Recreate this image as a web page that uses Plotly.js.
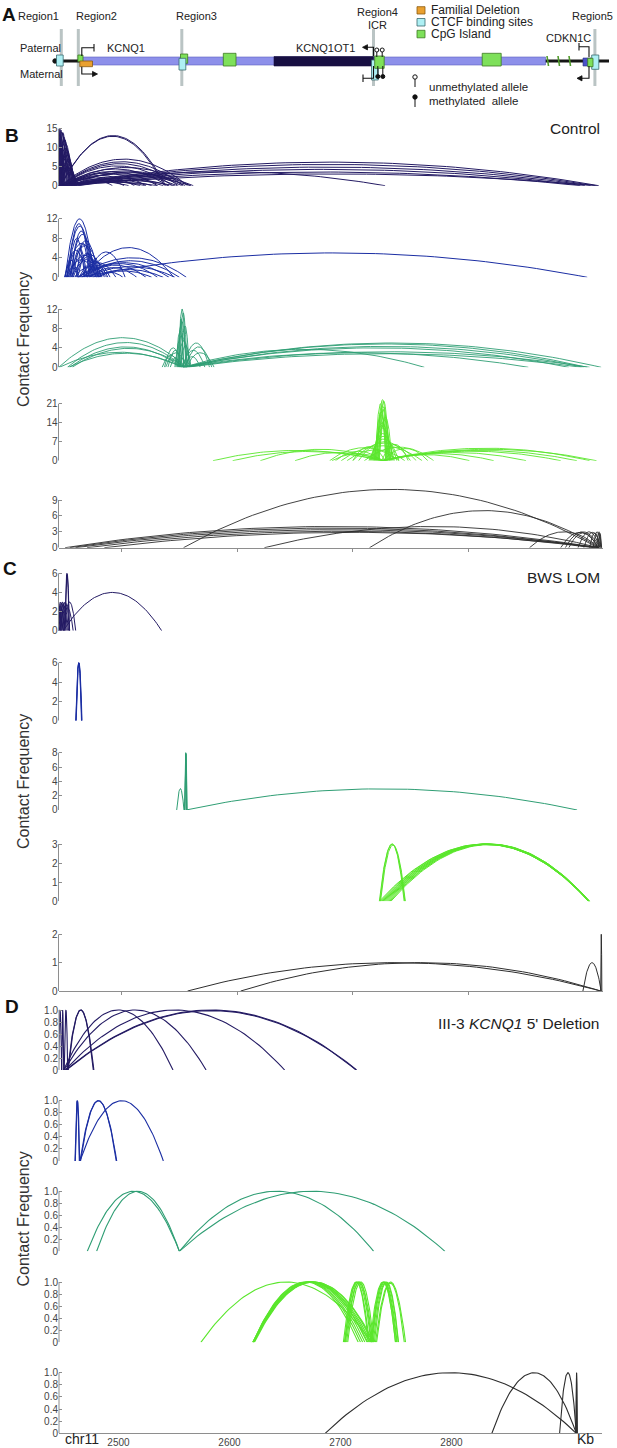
<!DOCTYPE html>
<html><head><meta charset="utf-8">
<script src="https://cdn.plot.ly/plotly-3.0.1.min.js"></script>
<style>html,body{margin:0;padding:0;background:#fff}#chart{width:617px;height:1448px}</style>
</head><body><div id="chart"></div>
<script>
// ---------------- DATA (genomic kb on chr11: [start, end, contact frequency]) ----------------
const xTickVals = [2500, 2600, 2700, 2800];
const xTickText = ['2500', '2600', '2700', '2800'];

// B  Control
const ctrlRegion1 = [
 [2444.8,2448.2,15],[2445.2,2449.8,14.6],[2445.6,2452.0,13.8],[2446.0,2453.8,12.8],[2445.5,2455.5,12.2],
 [2446.2,2457.0,11.0],[2446.6,2458.2,9.5],[2445.0,2451.0,10.5],[2446.0,2459.5,8.0],[2447.0,2458.8,6.5],
 [2445.4,2455.0,7.5],[2447.5,2460.5,5.5],[2446.5,2461.0,4.2],[2448.0,2462.5,3.5],[2447.0,2450.5,9.0],[2448.5,2456.0,6.0],
 [2445.0,2449.0,13.0],[2445.3,2452.8,14.0],[2446.8,2454.5,12.0],[2447.4,2456.5,10.0],[2445.8,2457.8,8.8],
 [2446.4,2460.0,7.0],[2447.8,2459.2,5.0],[2446.0,2462.0,4.6],[2445.2,2447.0,12.5],[2448.2,2453.0,7.8],
 [2447.0,2538.0,13.2],[2447.2,2537.0,13.0],[2447.0,2557.0,7.0],[2447.5,2553.0,6.3],[2448.0,2549.0,5.8],[2448.0,2544.0,5.2],
 [2448.5,2559.0,4.8],[2449.0,2540.0,4.4],[2449.0,2555.0,3.9],[2450.0,2531.0,3.7],[2450.0,2521.0,3.3],
 [2451.0,2548.0,3.1],[2451.0,2511.0,2.7],[2452.0,2502.0,2.3],[2452.0,2536.0,2.1],[2453.0,2492.0,1.8],
 [2455.0,2526.0,1.6],[2456.0,2516.0,1.3],[2458.0,2506.0,1.0],[2460.0,2546.0,1.4],[2462.0,2531.0,0.9],
 [2454.0,2560.0,2.6],[2450.0,2562.0,3.4],[2457.0,2552.0,3.6],[2459.0,2541.0,2.0],[2463.0,2520.0,1.1],
 [2447.5,2913.0,6.2],[2447.5,2910.0,5.6],[2448.0,2906.0,4.9],[2448.5,2901.0,4.3],[2449.0,2897.0,3.6],
 [2450.0,2912.0,3.1],[2447.5,2728.0,3.7]
];
const ctrlRegion2 = [
 [2451.0,2476.0,12.0],[2453.0,2473.0,11.0],[2456.0,2474.0,9.5],[2452.0,2479.0,7.0],[2455.0,2482.0,6.5],
 [2450.5,2470.0,5.5],[2458.0,2485.0,4.8],[2460.0,2481.0,4.2],[2452.0,2478.0,3.6],[2463.0,2490.0,3.2],
 [2451.0,2462.0,3.5],[2466.0,2480.0,2.6],[2454.0,2468.0,8.0],[2457.0,2470.0,6.0],[2459.0,2487.0,2.2],[2462.0,2478.0,5.0],
 [2452.5,2475.0,10.5],[2455.0,2477.0,8.8],[2457.5,2480.0,7.5],[2453.5,2483.0,4.5],[2461.0,2472.0,6.8],[2456.0,2488.0,3.8],
 [2467.0,2545.0,6.1],[2470.0,2503.0,5.2],[2462.0,2556.0,4.0],[2465.0,2550.0,3.4],[2462.0,2541.0,3.0],
 [2466.0,2531.0,2.8],[2468.0,2521.0,2.5],[2470.0,2546.0,2.2],[2472.0,2513.0,2.0],[2475.0,2536.0,1.6],
 [2478.0,2526.0,1.3],[2480.0,2501.0,1.0],[2464.0,2495.0,3.0],
 [2462.5,2903.0,5.0]
];
const ctrlRegion3 = [
 [2549.0,2555.5,12.0],[2550.0,2556.5,11.2],[2548.0,2556.0,9.5],[2551.0,2558.5,8.5],[2547.0,2554.0,7.5],
 [2546.0,2557.5,6.5],[2549.5,2553.5,10.0],[2548.5,2559.0,5.5],[2550.5,2560.0,4.5],
 [2537.0,2552.0,4.0],[2540.0,2553.0,3.5],[2535.0,2550.0,2.5],[2538.0,2556.0,3.0],[2542.0,2551.0,2.0],
 [2553.0,2576.0,5.0],[2555.0,2578.0,4.2],[2552.0,2572.0,3.5],[2556.0,2580.0,3.0],[2554.0,2568.0,2.2],
 [2445.5,2556.0,6.1],[2453.0,2554.0,5.1],[2455.0,2552.0,4.2],[2457.0,2555.0,3.9],[2446.0,2552.0,3.1],[2454.0,2553.0,2.9],
 [2553.0,2915.0,5.0],[2553.0,2903.0,4.8],[2554.0,2900.0,4.3],[2553.0,2887.0,4.0],[2555.0,2905.0,3.2],
 [2553.0,2852.0,3.0],[2556.0,2898.0,2.8],[2553.0,2762.0,3.7]
];
const ctrlRegion4 = [
 [2721.0,2730.5,22.5],[2722.0,2731.5,22.0],[2720.0,2732.0,20.0],[2719.0,2730.0,18.0],[2722.5,2734.0,16.0],
 [2718.0,2733.0,14.0],[2717.0,2735.0,12.0],[2716.0,2736.0,10.0],[2715.0,2738.0,9.0],[2714.0,2740.0,8.0],
 [2719.5,2728.5,21.0],[2723.0,2729.5,19.0],[2720.5,2729.0,17.0],[2721.5,2733.0,15.0],[2718.5,2731.5,13.0],
 [2690.0,2760.0,5.5],[2700.0,2755.0,6.5],[2680.0,2740.0,4.8],[2710.0,2770.0,5.0],[2695.0,2745.0,4.0],
 [2705.0,2750.0,7.0],[2685.0,2725.0,3.5],[2726.0,2765.0,4.5],[2700.0,2728.0,5.2],[2725.0,2748.0,6.0],
 [2579.0,2725.0,3.8],[2596.0,2726.0,3.4],[2650.0,2726.0,3.0],[2682.0,2727.0,2.6],[2620.0,2725.0,4.2],
 [2725.0,2911.0,4.2],[2726.0,2894.0,3.8],[2724.0,2880.0,3.5],[2727.0,2850.0,3.0],[2725.0,2822.0,2.6],
 [2726.0,2801.0,2.2],[2725.0,2905.0,4.6]
];
const ctrlRegion5 = [
 [2553.5,2912.0,11.0],[2714.5,2913.0,7.0],[2623.5,2913.0,4.0],
 [2451.0,2913.0,4.0],[2455.0,2910.0,3.7],[2460.0,2912.0,3.4],[2470.0,2908.0,3.1],[2485.0,2913.0,2.9],
 [2853.0,2913.0,3.0],[2880.0,2913.0,2.9],[2884.0,2914.0,3.0],[2887.0,2912.0,2.8],[2895.0,2914.0,3.0],
 [2900.0,2915.0,2.9],[2905.0,2914.0,2.8],[2908.0,2915.0,3.0],[2911.0,2915.2,3.0],[2912.5,2915.4,2.7]
];

// C  BWS LOM
const lomRegion1 = [
 [2444.8,2449.0,3.0],[2445.0,2451.0,2.9],[2445.5,2452.0,3.0],[2446.0,2453.0,2.8],[2446.5,2454.0,2.5],
 [2447.0,2455.0,3.0],[2445.0,2447.5,2.5],[2447.5,2450.0,2.0],[2448.0,2458.0,2.4],
 [2450.6,2454.6,6.0],[2450.8,2454.8,5.9],[2449.5,2460.2,3.0],
 [2449.4,2534.6,4.0]
];
const lomRegion2 = [[2460.2,2465.4,6.0],[2460.6,2465.6,5.95],[2460.4,2465.2,6.0]];
const lomRegion3 = [
 [2554.4,2556.4,8.0],[2554.8,2556.2,7.8],[2554.6,2556.6,7.9],
 [2547.6,2553.9,3.0],[2555.7,2894.2,2.95]
];
const lomRegion4 = [
 [2723.0,2904.5,3.0],[2724.0,2904.0,3.0],[2725.0,2905.0,2.98],[2726.0,2904.5,3.0],[2727.0,2904.0,2.97],
 [2728.0,2905.0,3.0],[2729.0,2904.5,2.98],[2730.0,2904.0,3.0],[2731.0,2905.0,2.99],[2732.0,2904.5,3.0],
 [2733.0,2904.0,2.97],
 [2723.0,2745.1,3.0],[2723.5,2744.5,3.0],[2724.0,2745.5,2.95]
];
const lomRegion5 = [
 [2557.0,2914.5,1.0],[2603.0,2914.5,1.0],[2899.2,2915.0,1.0],[2914.6,2915.6,2.0]
];

// D  III-3 KCNQ1 5' Deletion
const delRegion1 = [
 [2445.8,2448.8,1.0],[2448.8,2450.6,1.0],[2451.1,2454.2,1.0],
 [2454.7,2477.3,1.0],[2454.2,2477.8,1.0],
 [2450.5,2549.1,1.0],[2451.0,2578.9,1.0],[2452.0,2649.7,1.0],[2452.5,2714.5,1.0],[2453.0,2714.0,0.99]
];
const delRegion2 = [
 [2460.8,2464.7,1.0],[2461.1,2465.0,1.0],
 [2465.3,2498.4,1.0],[2465.8,2498.0,1.0],[2465.3,2540.4,1.0]
];
const delRegion3 = [
 [2471.9,2554.8,1.0],[2480.3,2554.8,1.0],[2554.8,2729.9,1.0],[2554.8,2794.1,1.0]
];
const delRegion4 = [
 [2574.2,2728.1,1.0],[2621.2,2724.6,1.0],
 [2621.2,2716.0,1.0],[2621.5,2718.0,1.0],[2621.0,2720.0,1.0],[2622.0,2722.0,1.0],[2621.5,2724.0,1.0],
 [2622.0,2726.0,1.0],[2621.0,2727.5,1.0],[2622.5,2729.0,1.0],[2621.5,2730.0,1.0],
 [2702.6,2726.0,1.0],[2703.5,2727.5,1.0],[2704.5,2729.0,1.0],[2705.5,2728.0,1.0],[2706.5,2730.0,1.0],[2704.0,2725.0,1.0],
 [2726.7,2749.6,1.0],[2727.5,2750.5,1.0],[2728.5,2751.0,1.0],[2729.5,2752.0,1.0],[2730.5,2752.3,1.0],[2728.0,2749.5,1.0],
 [2731.5,2758.6,1.0],[2732.5,2757.5,0.98]
];
const delRegion5 = [
 [2686.2,2912.4,1.0],[2836.4,2912.4,1.0],[2897.4,2912.4,1.0],[2912.0,2913.4,1.0],[2912.3,2913.0,1.0]
];

// y tick values per panel
const ticksB = [[0,5,10,15],[0,4,8,12],[0,4,8,12],[0,7,14,21],[0,3,6,9]];
const ticksC = [[0,2,4,6],[0,2,4,6],[0,2,4,6,8],[0,1,2,3],[0,1,2]];
const ticksD = [0,0.2,0.4,0.6,0.8,1.0];
const ticksDText = ['0','0.2','0.4','0.6','0.8','1.0'];

// Panel A diagram features (diagram units, left to right)
const regionNames = ['Region1','Region2','Region3','Region4','Region5'];
const regionLineX = [61.3, 78.3, 181.8, 373.5, 594.9];
const regionLabelX = [38, 96, 196, 377, 592];
const ctcfSites = [[56.5,63.2,55,66],[179,185.8,58.3,70],[371.5,378.3,60,80],[591.7,598.8,55,69.3]];
const cpgIslands = [[77.9,83,55,61.7],[223.3,236,53.3,66],[374.7,384.2,56,68.3],[482.2,501.2,53.3,66],[587.7,593,58.3,66.7]];
const cpgIslandBehind = [[180.5,187.7,54,63.3]];
const deletionBox = [79.8,92.5,61,66.7];
const kcnq1Gene = [81,545.5,57,65];
const kcnq1ot1Gene = [274,373.5,56.5,66];
const cdkn1cGene = [583,591,58,66];
const smallCpG = [547,558,569];

// ---------------- RENDER ----------------
const W = 617, H = 1448;
const FONT = 'Arial, "Liberation Sans", Helvetica, sans-serif';
const NAVY = '#231a63', BLUE = '#1b2ea3', TEAL = '#2f9e74', LIME = '#5ae62c', GRAY = '#2e2e2e';
const AXC = '#8e8e8e';

function arcXY(list){
  const xs = [], ys = [];
  list.forEach(([s,e,h]) => {
    const n = 60;
    for (let i = 0; i <= n; i++){ const t = i/n; xs.push(s + (e-s)*t); ys.push(4*h*t*(1-t)); }
    xs.push(null); ys.push(null);
  });
  return {xs, ys};
}

const panels = [
 {d:ctrlRegion1,c:NAVY,x:'x', y0:185.7,tp:128.7,tt:15,R:15.3,tv:ticksB[0],w:1.0},
 {d:ctrlRegion2,c:BLUE,x:'x', y0:277.3,tp:218.8,tt:12,R:12.3,tv:ticksB[1],w:1.0},
 {d:ctrlRegion3,c:TEAL,x:'x', y0:367.3,tp:309.0,tt:12,R:12.3,tv:ticksB[2],w:0.9},
 {d:ctrlRegion4,c:LIME,x:'x', y0:460.7,tp:403.7,tt:21,R:23.3,tv:ticksB[3],w:0.9},
 {d:ctrlRegion5,c:GRAY,x:'x', y0:547.7,tp:500.0,tt:9, R:11.4,tv:ticksB[4],w:0.9},
 {d:lomRegion1,c:NAVY,x:'x2',y0:630.7,tp:573.3,tt:6,R:6.15,tv:ticksC[0],w:1},
 {d:lomRegion2,c:BLUE,x:'x2',y0:720.7,tp:662.7,tt:6,R:6.15,tv:ticksC[1],w:1},
 {d:lomRegion3,c:TEAL,x:'x2',y0:810.0,tp:752.7,tt:8,R:8.2,tv:ticksC[2],w:1},
 {d:lomRegion4,c:LIME,x:'x2',y0:901.3,tp:844.0,tt:3,R:3.07,tv:ticksC[3],w:1},
 {d:lomRegion5,c:GRAY,x:'x2',y0:991.0,tp:934.3,tt:2,R:2.05,tv:ticksC[4],w:1},
 {d:delRegion1,c:NAVY,x:'x3',y0:1070.0,tp:1010.0,tt:1,R:1.02,tv:ticksD,tt2:ticksDText,w:1.1},
 {d:delRegion2,c:BLUE,x:'x3',y0:1161.0,tp:1100.7,tt:1,R:1.02,tv:ticksD,tt2:ticksDText,w:1.1},
 {d:delRegion3,c:TEAL,x:'x3',y0:1251.3,tp:1191.3,tt:1,R:1.02,tv:ticksD,tt2:ticksDText,w:1.1},
 {d:delRegion4,c:LIME,x:'x3',y0:1342.3,tp:1282.0,tt:1,R:1.02,tv:ticksD,tt2:ticksDText,w:1.1},
 {d:delRegion5,c:GRAY,x:'x3',y0:1433.3,tp:1372.7,tt:1,R:1.02,tv:ticksD,tt2:ticksDText,w:1.1}
];

const traces = [];
const layout = {
  width: W, height: H, margin:{l:0,r:0,t:0,b:0}, paper_bgcolor:'#fff', plot_bgcolor:'rgba(0,0,0,0)',
  showlegend:false, font:{family:FONT, color:'#333'}, shapes:[], annotations:[]
};
const BX = [58.5/W, 603/W], DX = [59/W, 602/W];
const baseX = {showgrid:false, zeroline:false, fixedrange:true, linecolor:AXC, linewidth:1, tickcolor:AXC};
layout.xaxis  = Object.assign({}, baseX, {domain:BX, range:[2445.3,2916.6], anchor:'y5',  showline:true, ticks:'outside', ticklen:3, tickvals:xTickVals, showticklabels:false});
layout.xaxis2 = Object.assign({}, baseX, {domain:BX, range:[2445.3,2916.6], anchor:'y10', showline:true, ticks:'outside', ticklen:3, tickvals:xTickVals, showticklabels:false});
layout.xaxis3 = Object.assign({}, baseX, {domain:DX, range:[2446.4,2935.6], anchor:'y15', showline:true, ticks:'', tickvals:xTickVals, ticktext:xTickText, tickfont:{size:10,color:'#444',family:FONT}});
layout.xaxis4 = {domain:[0,1], range:[0,W], anchor:'y16', visible:false, fixedrange:true};
layout.yaxis16 = {domain:[1-112/H,1], range:[112,0], anchor:'x4', visible:false, fixedrange:true};

panels.forEach((p,i) => {
  const k = i+1;
  const ppu = (p.y0 - p.tp)/p.tt;
  const topPx = p.y0 - p.R*ppu;
  const ax = {domain:[1-p.y0/H, 1-topPx/H], range:[0,p.R], anchor:p.x, showgrid:false, zeroline:false, showline:false,
    ticks:'inside', ticklen:3, tickcolor:AXC, tickvals:p.tv, tickfont:{size:10,color:'#444',family:FONT}, fixedrange:true};
  if (p.tt2) ax.ticktext = p.tt2;
  layout['yaxis'+(k===1?'':k)] = ax;
  const a = arcXY(p.d);
  traces.push({type:'scatter', mode:'lines', x:a.xs, y:a.ys, xaxis:p.x, yaxis:'y'+(k===1?'':k),
    line:{color:p.c, width:p.w}, hoverinfo:'skip', connectgaps:false});
  const xl = (p.x==='x3'?DX[0]:BX[0]);
  layout.shapes.push({type:'line', xref:'paper', yref:'y'+(k===1?'':k), x0:xl, x1:xl, y0:0, y1:p.tt, line:{color:AXC,width:1}});
});
// invisible anchor trace for the diagram axes
traces.push({type:'scatter', mode:'markers', x:[0], y:[0], xaxis:'x4', yaxis:'y16', marker:{opacity:0}, hoverinfo:'skip'});

// ---------------- Panel A diagram ----------------
const S = layout.shapes, A = layout.annotations;
const XR = 'x4', YR = 'y16';
function rect(b, fill, lc, lw){ S.push({type:'rect', xref:XR, yref:YR, x0:b[0], x1:b[1], y0:b[2], y1:b[3], fillcolor:fill, line:{color:lc, width:lw}}); }
function line(x0,y0,x1,y1,c,w){ S.push({type:'line', xref:XR, yref:YR, x0, y0, x1, y1, line:{color:c, width:w}}); }
function path(d, fill, c, w){ S.push({type:'path', xref:XR, yref:YR, path:d, fillcolor:fill, line:{color:c, width:w}}); }
function circ(cx, cy, r, fill){ S.push({type:'circle', xref:XR, yref:YR, x0:cx-r, x1:cx+r, y0:cy-r, y1:cy+r, fillcolor:fill, line:{color:'#111', width:1}}); }
function txt(x, y, t, o){ A.push(Object.assign({xref:XR, yref:YR, x, y, text:t, showarrow:false, font:{family:FONT, size:11, color:'#222'}, xanchor:'center', yanchor:'middle'}, o||{})); }

regionLineX.forEach(x => line(x, 29, x, 86, '#bac4c4', 3));
line(55, 61, 609, 61, '#151515', 3);
circ(55, 61, 2.2, '#151515');
rect(kcnq1Gene, '#8d90ea', '#5a5fc0', 0.6);
rect(kcnq1ot1Gene, '#170f42', '#170f42', 0.6);
rect(cdkn1cGene, '#4b52c8', '#2a2f80', 0.6);
smallCpG.forEach(x => line(x, 56, x+1.5, 66, '#4f9a2a', 1.6));
cpgIslandBehind.forEach(b => rect(b, '#7ee05a', '#3c7a22', 0.8));
ctcfSites.forEach(b => rect(b, '#aef0f4', '#3a6a70', 0.8));
cpgIslands.forEach(b => rect(b, '#7ee05a', '#3c7a22', 0.8));
rect(deletionBox, '#e9a030', '#8a5a10', 0.8);

// promoters / arrows
const NOF = 'rgba(0,0,0,0)';
path('M 81.8 56 L 81.8 47.7 L 94 47.7', NOF, '#111', 1.1); line(94, 44, 94, 51.5, '#111', 1.1);
path('M 81.8 66.7 L 81.8 74 L 93 74', NOF, '#111', 1.1); path('M 97.5 74 L 92.5 71.4 L 92.5 76.6 Z', '#111', '#111', 0.8);
path('M 373.5 56 L 373.5 47.3 L 366 47.3', NOF, '#111', 1.1); path('M 362.5 47.3 L 367.5 44.7 L 367.5 49.9 Z', '#111', '#111', 0.8);
path('M 373.5 66 L 373.5 78.3 L 363 78.3', NOF, '#111', 1.1); line(363, 74.5, 363, 82, '#111', 1.1);
path('M 589 57 L 589 46.7 L 579 46.7', NOF, '#111', 1.1); line(579, 43, 579, 50.5, '#111', 1.1);
path('M 589 66 L 589 78.3 L 581 78.3', NOF, '#111', 1.1); path('M 577 78.3 L 582 75.7 L 582 80.9 Z', '#111', '#111', 0.8);
// methylation lollipops at ICR
[376.8, 382.2].forEach(x => { line(x, 52, x, 57, '#111', 1); circ(x, 50, 2, '#fff'); });
[377.8, 382.8].forEach(x => { line(x, 66, x, 74.5, '#111', 1); circ(x, 76.5, 2, '#111'); });
// legend
rect([417,425,6.7,14], '#e9a030', '#8a5a10', 0.8);
rect([417,425,18.5,26], '#aef0f4', '#3a6a70', 0.8);
rect([417,425,30.3,37.8], '#7ee05a', '#3c7a22', 0.8);
line(415, 79, 415, 87, '#111', 1); circ(415, 77, 2.2, '#fff');
line(415, 99, 415, 107, '#111', 1); circ(415, 97, 2.2, '#111');
txt(429, 10.3, 'Familial Deletion', {xanchor:'left', font:{family:FONT,size:12,color:'#222'}});
txt(429, 22.3, 'CTCF binding sites', {xanchor:'left', font:{family:FONT,size:12,color:'#222'}});
txt(429, 34.2, 'CpG Island', {xanchor:'left', font:{family:FONT,size:12,color:'#222'}});
txt(427, 86.5, 'unmethylated allele', {xanchor:'left', font:{family:FONT,size:11.5,color:'#222'}});
txt(427, 101, 'methylated\u00a0 allele', {xanchor:'left', font:{family:FONT,size:11.5,color:'#222'}});
regionNames.forEach((n,i) => txt(regionLabelX[i], i===3 ? 11.5 : 16, n));
txt(377, 25, 'ICR');
txt(18, 48.3, 'Paternal', {xanchor:'left'});
txt(18, 74, 'Maternal', {xanchor:'left'});
txt(126, 48.3, 'KCNQ1');
txt(357, 48.3, 'KCNQ1OT1', {xanchor:'right'});
txt(568, 38.3, 'CDKN1C');
txt(9, 14, '<b>A</b>', {font:{family:FONT,size:19,color:'#111'}});

// ---------------- other labels (paper) ----------------
function pann(x, y, t, o){ A.push(Object.assign({xref:'paper', yref:'paper', x:x/W, y:1-y/H, text:t, showarrow:false, font:{family:FONT,size:15.5,color:'#222'}, xanchor:'center', yanchor:'middle'}, o||{})); }
pann(12, 136, '<b>B</b>', {font:{family:FONT,size:19,color:'#111'}});
pann(10, 569, '<b>C</b>', {font:{family:FONT,size:19,color:'#111'}});
pann(12, 1006.5, '<b>D</b>', {font:{family:FONT,size:19,color:'#111'}});
pann(602, 128, 'Control', {xanchor:'right'});
pann(602, 578, 'BWS LOM', {xanchor:'right'});
pann(601, 1023.5, "III-3 <i>KCNQ1</i> 5' Deletion", {xanchor:'right'});
[340, 782, 1219.5].forEach(y => pann(23, y, 'Contact Frequency', {textangle:-90, font:{family:FONT,size:16,color:'#333'}}));
pann(81.7, 1438.5, 'chr11', {font:{family:FONT,size:14,color:'#222'}});
pann(585, 1438.5, 'Kb', {font:{family:FONT,size:14,color:'#222'}});

Plotly.newPlot('chart', traces, layout, {staticPlot:true, displayModeBar:false});
</script></body></html>
